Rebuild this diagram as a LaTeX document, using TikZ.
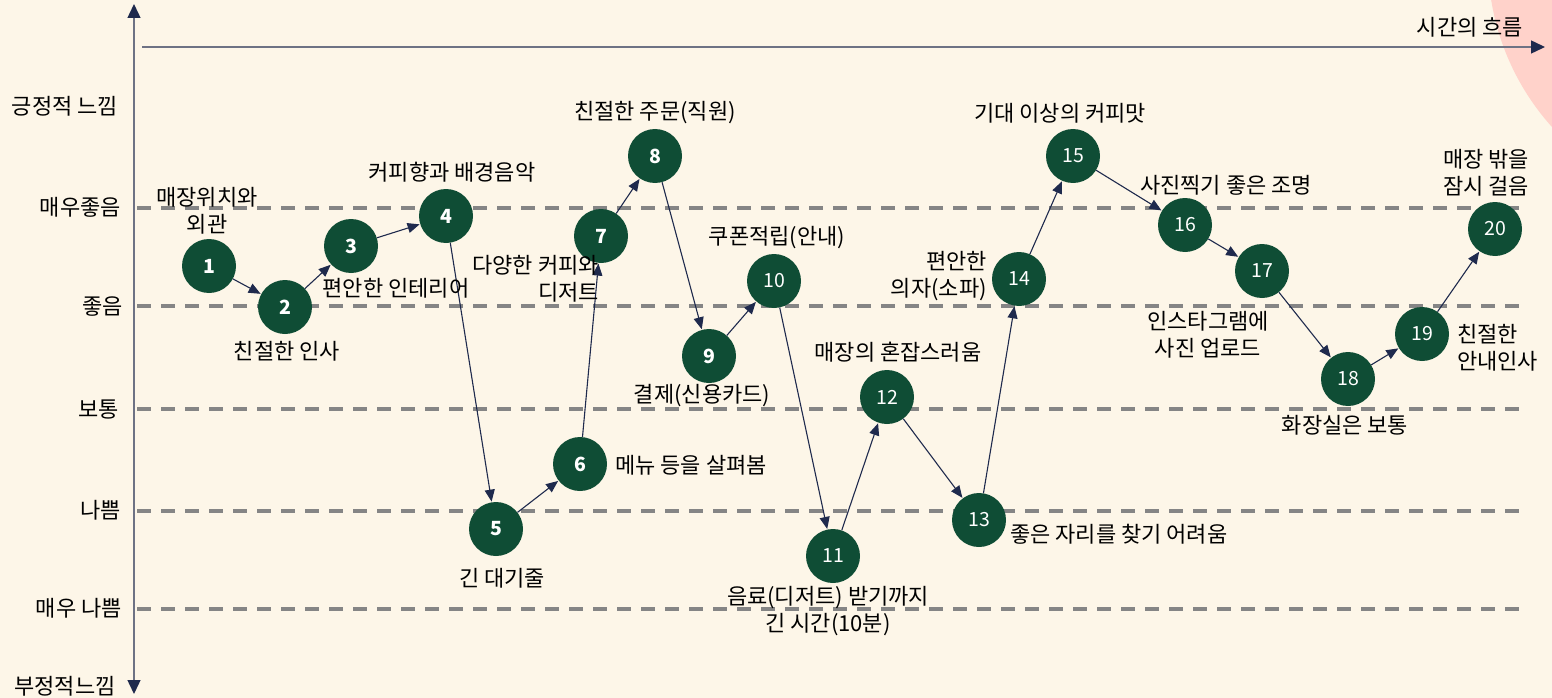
\documentclass[tikz,border=0pt]{standalone}
\usepackage{fontspec}
\setmainfont{Noto Sans CJK KR}
\usetikzlibrary{arrows.meta}
\definecolor{bgc}{HTML}{FDF6E8}
\definecolor{pinkc}{HTML}{FFD2CA}
\definecolor{nodec}{HTML}{0F4D35}
\definecolor{arrc}{HTML}{1F2A4D}
\definecolor{dashc}{HTML}{858585}
\definecolor{axisc}{HTML}{6E7284}
\tikzset{
  stepnode/.style={circle, fill=nodec, minimum size=54pt, inner sep=0pt, text=white, font=\fontsize{19.5}{22}\selectfont},
  bignum/.style={font=\fontsize{19.5}{22}\selectfont\bfseries},
  lbl/.style={font=\fontsize{22}{27}\selectfont, text=black, inner sep=0pt, align=center},
  flow/.style={draw=arrc, line width=1.1pt, -{Triangle[length=12pt,width=10pt]}, shorten >=0.5pt},
  level/.style={draw=dashc, line width=3.2pt, dash pattern=on 14pt off 10pt},
  axis/.style={draw=axisc, line width=1.4pt, -{Triangle[length=14pt,width=13pt,fill=arrc,color=arrc]}}
}
\begin{document}
\begin{tikzpicture}[x=1pt,y=-1pt]
\useasboundingbox (0,0) rectangle (1552,698);
\fill[bgc] (0,0) rectangle (1552,698);
\begin{scope}
\clip (0,0) rectangle (1552,698);
\fill[pinkc] (1738,-40) circle (250pt);
\end{scope}

% levels
\foreach \yy in {208,306,409,511,609} \draw[level] (137,\yy) -- (1520,\yy);

% axes
\coordinate (vb) at (134,350);
\coordinate (vt) at (134,4);
\coordinate (vd) at (134,694);
\draw[axis] (vb) -- (vt);
\draw[axis] (vb) -- (vd);
\coordinate (hs) at (142,47);
\coordinate (he) at (1545,47);
\draw[axis] (hs) -- (he);

% axis labels
\node[lbl] (tpos) at (65,106) {긍정적 느낌};
\node[lbl,anchor=east] (tvg) at (121,207) {매우좋음};
\node[lbl,anchor=east] (tg) at (123,307) {좋음};
\node[lbl,anchor=east] (tn) at (119,410) {보통};
\node[lbl,anchor=east] (tb) at (121,510) {나쁨};
\node[lbl,anchor=east] (tvb) at (122,608) {매우 나쁨};
\node[lbl] (tneg) at (65,686) {부정적느낌};
\node[lbl] (ttime) at (1470,27) {시간의 흐름};

% step nodes
\node[stepnode,bignum] (n1) at (209,266) {1};
\node[stepnode,bignum] (n2) at (285,307) {2};
\node[stepnode,bignum] (n3) at (351,246) {3};
\node[stepnode,bignum] (n4) at (446,216) {4};
\node[stepnode,bignum] (n5) at (496,529) {5};
\node[stepnode,bignum] (n6) at (580,464) {6};
\node[stepnode,bignum] (n7) at (601,236) {7};
\node[stepnode,bignum] (n8) at (655,156) {8};
\node[stepnode,bignum] (n9) at (709,356) {9};
\node[stepnode] (n10) at (774,281) {10};
\node[stepnode] (n11) at (833,556) {11};
\node[stepnode] (n12) at (887,397) {12};
\node[stepnode] (n13) at (979,520) {13};
\node[stepnode] (n14) at (1019,279) {14};
\node[stepnode] (n15) at (1073,156) {15};
\node[stepnode] (n16) at (1185,225) {16};
\node[stepnode] (n17) at (1262,271) {17};
\node[stepnode] (n18) at (1348,379) {18};
\node[stepnode] (n19) at (1422,334) {19};
\node[stepnode] (n20) at (1495,229) {20};

% connectors
\draw[flow] (n1) -- (n2);
\draw[flow] (n2) -- (n3);
\draw[flow] (n3) -- (n4);
\draw[flow] (n4) -- (n5);
\draw[flow] (n5) -- (n6);
\draw[flow] (n6) -- (n7);
\draw[flow] (n7) -- (n8);
\draw[flow] (n8) -- (n9);
\draw[flow] (n9) -- (n10);
\draw[flow] (n10) -- (n11);
\draw[flow] (n11) -- (n12);
\draw[flow] (n12) -- (n13);
\draw[flow] (n13) -- (n14);
\draw[flow] (n14) -- (n15);
\draw[flow] (n15) -- (n16);
\draw[flow] (n16) -- (n17);
\draw[flow] (n17) -- (n18);
\draw[flow] (n18) -- (n19);
\draw[flow] (n19) -- (n20);

% labels
\node[lbl] (l1) at (207,211) {매장위치와\\외관};
\node[lbl] (l2) at (287,351) {친절한 인사};
\node[lbl] (l3) at (396,288) {편안한 인테리어};
\node[lbl] (l4) at (452,172) {커피향과 배경음악};
\node[lbl] (l5) at (502,578) {긴 대기줄};
\node[lbl,anchor=west] (l6) at (615,465) {메뉴 등을 살펴봄};
\node[lbl,align=right,anchor=east] (l7) at (599,279) {다양한 커피와\\디저트};
\node[lbl] (l8) at (655,113) {친절한 주문(직원)};
\node[lbl] (l9) at (702,396) {결제(신용카드)};
\node[lbl] (l10) at (777,238) {쿠폰적립(안내)};
\node[lbl] (l11) at (828,611) {음료(디저트) 받기까지\\긴 시간(10분)};
\node[lbl] (l12) at (898,352) {매장의 혼잡스러움};
\node[lbl,anchor=west] (l13) at (1010,534) {좋은 자리를 찾기 어려움};
\node[lbl,align=right,anchor=east] (l14) at (987,276) {편안한\\의자(소파)};
\node[lbl] (l15) at (1060,113) {기대 이상의 커피맛};
\node[lbl] (l16) at (1226,185) {사진찍기 좋은 조명};
\node[lbl] (l17) at (1208,335) {인스타그램에\\사진 업로드};
\node[lbl] (l18) at (1345,425) {화장실은 보통};
\node[lbl,align=left,anchor=west] (l19) at (1457,348) {친절한\\안내인사};
\node[lbl] (l20) at (1486,173) {매장 밖을\\잠시 걸음};
\end{tikzpicture}
\end{document}
